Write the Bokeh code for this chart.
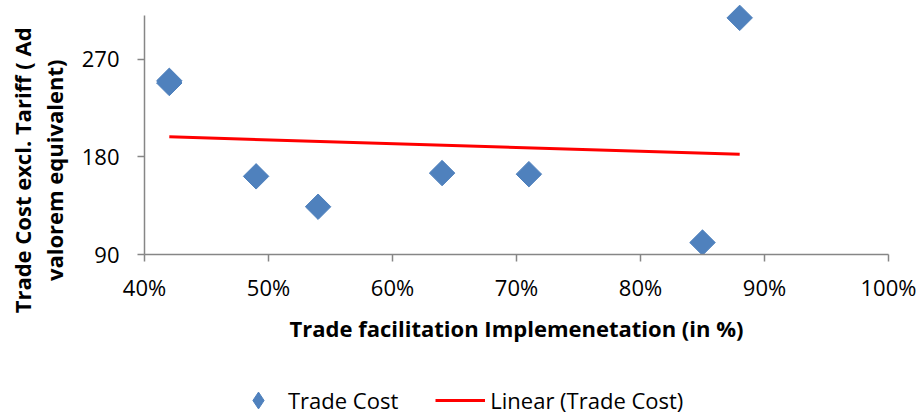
import numpy as np
from bokeh.plotting import figure
from bokeh.layouts import column
from bokeh.models import (Range1d, FixedTicker, Legend, LegendItem,
                          ColumnDataSource)
from bokeh.embed import file_html
from bokeh.resources import INLINE

# Trade facilitation implementation (%) vs trade cost (ad valorem equivalent)
implementation_pct = [42, 42, 49, 54, 64, 71, 85, 88]
trade_cost = [250, 248, 162, 134, 165, 164, 101, 308]

x_ticks = [40, 50, 60, 70, 80, 90, 100]
y_ticks = [90, 180, 270]
y_axis_top = 310

FONT = "Open Sans"
BLUE = "#4F81BD"
RED = "#FF0000"
AXIS_GREY = "#868686"

# least-squares trend line over the observed span
slope, intercept = np.polyfit(implementation_pct, trade_cost, 1)
trend_x = [min(implementation_pct), max(implementation_pct)]
trend_y = [slope * v + intercept for v in trend_x]

src = ColumnDataSource(dict(x=implementation_pct, y=trade_cost))
trend_src = ColumnDataSource(dict(x=trend_x, y=trend_y))

# frame runs to the top edge so the highest marker is not clipped;
# the visible axis line stops at y_axis_top
p = figure(width=920, height=364, output_backend="svg", toolbar_location=None,
           x_range=Range1d(40, 100), y_range=Range1d(90, 324),
           min_border_left=144, min_border_right=32,
           min_border_top=0, min_border_bottom=110)
p.outline_line_color = None
p.xgrid.visible = False
p.ygrid.visible = False

p.scatter("x", "y", source=src, marker="square", angle=np.pi / 4,
          size=18, fill_color=BLUE, line_color=BLUE)
p.line("x", "y", source=trend_src, line_color=RED, line_width=3)

for ax in (p.xaxis[0], p.yaxis[0]):
    ax.axis_line_color = AXIS_GREY
    ax.axis_line_width = 1.5
    ax.major_tick_line_color = AXIS_GREY
    ax.major_tick_line_width = 1.5
    ax.major_tick_out = 7
    ax.major_tick_in = 0
    ax.minor_tick_line_color = None
    ax.major_label_text_font = FONT
    ax.major_label_text_font_size = "22px"
    ax.major_label_text_color = "#000000"
    ax.axis_label_text_font = FONT
    ax.axis_label_text_font_style = "bold"
    ax.axis_label_text_font_size = "22px"
    ax.axis_label_text_color = "#000000"

p.xaxis.ticker = FixedTicker(ticks=x_ticks)
p.xaxis.major_label_overrides = {t: f"{t}%" for t in x_ticks}
p.xaxis.major_label_standoff = 10
p.xaxis.axis_label = "Trade facilitation Implemenetation (in %)"
p.xaxis.axis_label_standoff = 8

# trailing no-break spaces push the centred title down along the axis
pad = "\u00a0" * 15
p.yaxis.ticker = FixedTicker(ticks=y_ticks)
p.yaxis.bounds = (90, y_axis_top)
p.yaxis.major_label_standoff = 18
p.yaxis.axis_label = f"Trade Cost excl. Tariff ( Ad{pad}\nvalorem equivalent){pad}"
p.yaxis.axis_label_standoff = 10
p.yaxis.axis_label_text_line_height = 1.05

# legend strip under the chart; its sample glyphs sit outside this strip's view
leg = figure(width=920, height=48, output_backend="svg", toolbar_location=None,
             x_range=Range1d(0, 1), y_range=Range1d(0, 1),
             min_border=0, x_axis_type=None, y_axis_type=None)
leg.outline_line_color = None
leg.xgrid.visible = False
leg.ygrid.visible = False
leg_pts = leg.scatter("x", "y", source=src, marker="diamond",
                      size=18, fill_color=BLUE, line_color=BLUE)
leg_line = leg.line("x", "y", source=trend_src, line_color=RED, line_width=3)

legend = Legend(items=[LegendItem(label="Trade Cost", renderers=[leg_pts]),
                       LegendItem(label="Linear (Trade Cost)", renderers=[leg_line])],
                orientation="horizontal", location=(89, -9),
                border_line_color=None, background_fill_alpha=0,
                padding=0, margin=0, spacing=37,
                glyph_width=50, glyph_height=42, label_standoff=5,
                label_text_font=FONT, label_text_font_size="22px",
                label_text_color="#000000")
leg.add_layout(legend)

open("out.html", "w").write(file_html(column(p, leg, spacing=0), INLINE))
